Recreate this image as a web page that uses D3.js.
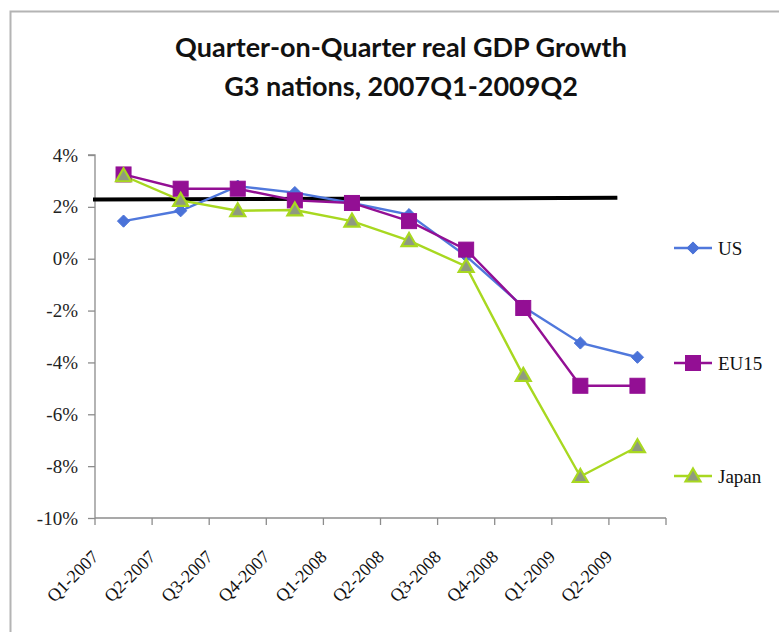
<!DOCTYPE html>
<html><head><meta charset="utf-8">
<script src="https://cdn.jsdelivr.net/npm/d3@7"></script>
</head>
<body style="margin:0;padding:0;background:#fff">
<script>
const categories = ["Q1-2007","Q2-2007","Q3-2007","Q4-2007","Q1-2008","Q2-2008","Q3-2008","Q4-2008","Q1-2009","Q2-2009"];
const usValues    = [1.45, 1.85, 2.8, 2.55, 2.15, 1.7, 0.1, -1.85, -3.25, -3.8];
const eu15Values  = [3.25, 2.7, 2.7, 2.25, 2.15, 1.45, 0.35, -1.9, -4.9, -4.9];
const japanValues = [3.2, 2.25, 1.85, 1.88, 1.45, 0.7, -0.3, -4.5, -8.4, -7.25];
const seriesNames = ["US","EU15","Japan"];
const yTicks = [4, 2, 0, -2, -4, -6, -8, -10];
const refLineValues = [2.28, 2.35];   // hand-drawn black line (left, right)

const SERIF = "Liberation Serif";
const W = 779, H = 632;
const margin = {left: 95, right: 113, top: 155, bottom: 114};
const svg = d3.select("body").append("svg").attr("width", W).attr("height", H)
  .style("display","block").style("font-family", SERIF);

// frame
svg.append("path").attr("d", `M10.5,${H} V11.5 H${W}`).attr("fill","none")
  .attr("stroke","#b4b4b4").attr("stroke-width",2);

// title
const title = svg.append("text").attr("text-anchor","middle")
  .style("font-family","Lato").style("font-weight","bold")
  .style("font-size","27px").attr("fill","#111");
title.append("tspan").attr("x",401).attr("y",57).text("Quarter-on-Quarter real GDP Growth");
title.append("tspan").attr("x",401).attr("y",96).text("G3 nations, 2007Q1-2009Q2");

const x0 = margin.left, x1 = W - margin.right;
const y = d3.scaleLinear().domain([-10, 4]).range([H - margin.bottom, margin.top]);
const xb = d3.scaleBand().domain(categories).range([x0, x1]).paddingInner(0).paddingOuter(0);
const xc = d => xb(d) + xb.bandwidth() / 2;

// y axis
const yAxis = svg.append("g").attr("transform", `translate(${x0},0)`)
  .call(d3.axisLeft(y).tickValues(yTicks).tickSize(7).tickPadding(10).tickFormat(d => d + "%"));
yAxis.attr("font-family", null).attr("font-size", null);
yAxis.select(".domain").attr("stroke","#8c8c8c").attr("stroke-width",1.3).attr("d", `M-7,${y(4)}H0V${y(-10)}`);
yAxis.selectAll(".tick line").attr("stroke","#8c8c8c").attr("stroke-width",1.3);
yAxis.selectAll(".tick text").style("font-family", SERIF).style("font-size","19px")
  .attr("fill","#222").text(d => (d < 0 ? "-" : "") + Math.abs(d) + "%");

// x axis
const xAxis = svg.append("g").attr("transform", `translate(0,${y(-10)})`);
xAxis.append("line").attr("x1", x0).attr("x2", x1).attr("stroke","#8c8c8c").attr("stroke-width",1.3);
const tickPos = categories.map(c => xb(c)).concat([x1]);
xAxis.selectAll("line.t").data(tickPos).join("line").attr("class","t")
  .attr("x1", d => d).attr("x2", d => d).attr("y1", 0).attr("y2", 7)
  .attr("stroke","#8c8c8c").attr("stroke-width",1.3);
xAxis.selectAll("text").data(categories).join("text")
  .attr("transform", d => `translate(${xc(d) - 24},${40}) rotate(-45)`)
  .attr("text-anchor","end").style("font-family", SERIF).style("font-size","18px")
  .attr("fill","#111").text(d => d);

// reference line
svg.append("line")
  .attr("x1", x0 - 2).attr("x2", xc(categories[8]) + 37)
  .attr("y1", y(refLineValues[0])).attr("y2", y(refLineValues[1]))
  .attr("stroke","#000").attr("stroke-width",4);

const series = [
  {name: seriesNames[0], values: usValues, color: "#5078dc", marker: "diamond", fill: "#4a72d8", stroke: "#4a72d8"},
  {name: seriesNames[1], values: eu15Values, color: "#930f94", marker: "square", fill: "#930f94", stroke: "#930f94"},
  {name: seriesNames[2], values: japanValues, color: "#a8d820", marker: "triangle", fill: "#8f9a80", stroke: "#a8d820"}
];
const line = d3.line().x((d,i) => xc(categories[i])).y(d => y(d));

function drawMarker(g, type, fill, stroke) {
  if (type === "diamond") g.append("path").attr("d", d3.symbol(d3.symbolDiamond2, 95)())
    .attr("fill", fill).attr("stroke", stroke).attr("stroke-width",1);
  else if (type === "square") g.append("rect").attr("x",-7.5).attr("y",-7.5).attr("width",15).attr("height",15)
    .attr("fill", fill).attr("stroke", stroke).attr("stroke-width",1);
  else g.append("path").attr("d","M0,-7.5L7.5,5.5L-7.5,5.5Z").attr("fill", fill).attr("stroke", stroke).attr("stroke-width",2.2);
}

series.forEach(s => {
  svg.append("path").datum(s.values).attr("d", line).attr("fill","none")
    .attr("stroke", s.color).attr("stroke-width", 2.4);
});
series.forEach(s => {
  s.values.forEach((v,i) => {
    const g = svg.append("g").attr("transform", `translate(${xc(categories[i])},${y(v)})`);
    drawMarker(g, s.marker, s.fill, s.stroke);
  });
});

// legend
const legendY = [248, 363, 476];
series.forEach((s, i) => {
  const g = svg.append("g").attr("transform", `translate(674,${legendY[i]})`);
  g.append("line").attr("x1",0).attr("x2",38).attr("stroke", s.color).attr("stroke-width",2.4);
  const m = g.append("g").attr("transform","translate(19,0)");
  drawMarker(m, s.marker, s.fill, s.stroke);
  g.append("text").attr("x", 44).attr("y", 6.5)
    .style("font-family", SERIF).style("font-size","19px").attr("fill","#111").text(s.name);
});
</script>
</body></html>
